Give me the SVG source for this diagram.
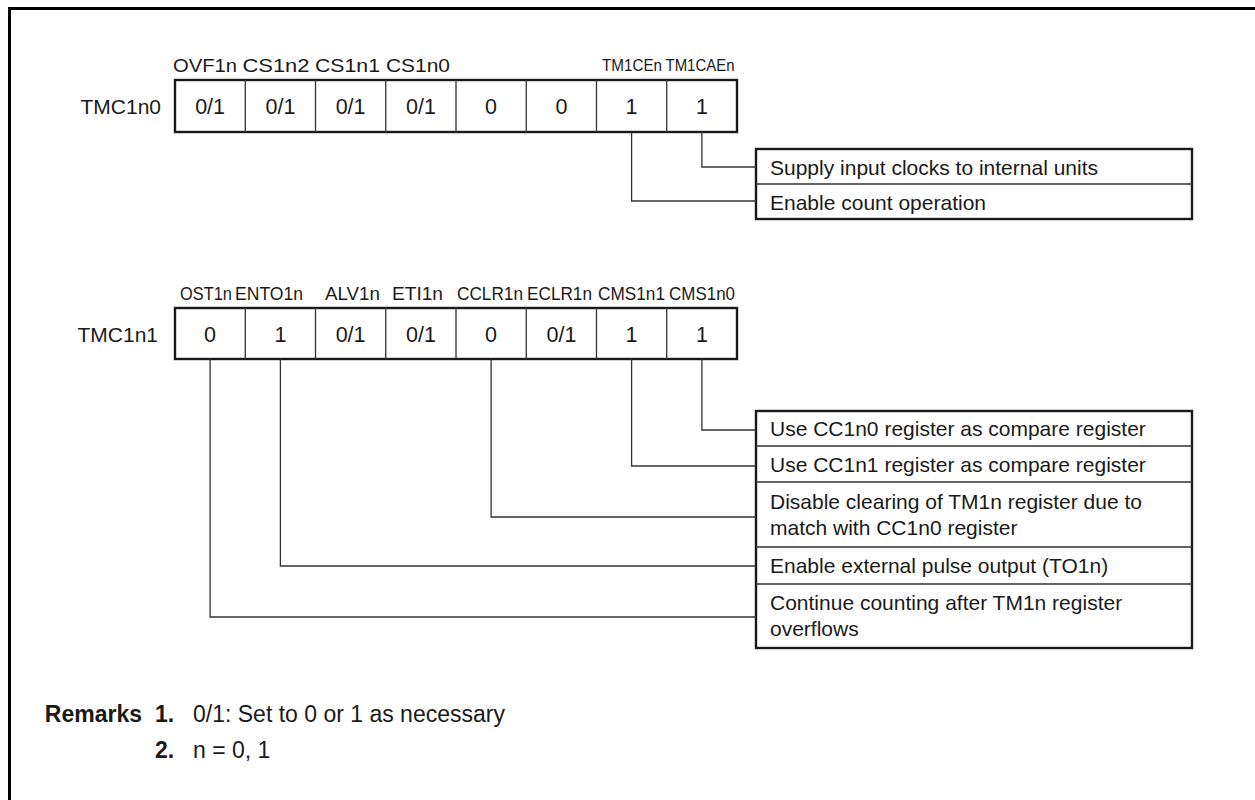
<svg xmlns="http://www.w3.org/2000/svg" width="1255" height="800" viewBox="0 0 1255 800">
  <style>
    text { font-family: "Liberation Sans", Arial, sans-serif; fill: #1a1a1a; }
    .val { font-size: 21.5px; text-anchor: middle; }
    .reg { font-size: 21px; text-anchor: end; }
    .bit { font-size: 19px; text-anchor: middle; }
    .bitn { font-size: 17px; text-anchor: middle; }
    .desc { font-size: 21px; }
    .rem { font-size: 23px; }
    .remb { font-size: 23px; font-weight: bold; }
    .outer { fill: #fff; stroke: #1a1a1a; stroke-width: 2.4; }
    .div { stroke: #333; stroke-width: 1.3; fill: none; }
    .wire { stroke: #333; stroke-width: 1.3; fill: none; }
    .frame { stroke: #000; stroke-width: 3; fill: none; }
  </style>

  <!-- page frame (top and left edges) -->
  <path class="frame" d="M9.5 800 V8.5 H1255"/>

  <!-- register TMC1n0 -->
  <g id="tmc1n0">
    <text class="bit" x="205" y="71.5" textLength="64" lengthAdjust="spacingAndGlyphs">OVF1n</text>
    <text class="bit" x="276" y="71.5" textLength="67" lengthAdjust="spacingAndGlyphs">CS1n2</text>
    <text class="bit" x="347.5" y="71.5" textLength="65" lengthAdjust="spacingAndGlyphs">CS1n1</text>
    <text class="bit" x="418" y="71.5" textLength="64" lengthAdjust="spacingAndGlyphs">CS1n0</text>
    <text class="bitn" x="632" y="71" textLength="60" lengthAdjust="spacingAndGlyphs">TM1CEn</text>
    <text class="bitn" x="700" y="71" textLength="69" lengthAdjust="spacingAndGlyphs">TM1CAEn</text>
    <text class="reg" x="161" y="114">TMC1n0</text>
    <rect class="outer" x="175" y="80" width="562" height="52"/>
    <path class="div" d="M245.25 80 V132 M315.5 80 V132 M385.75 80 V132 M456 80 V132 M526.25 80 V132 M596.5 80 V132 M666.75 80 V132"/>
    <text class="val" x="210.1" y="114">0/1</text>
    <text class="val" x="280.4" y="114">0/1</text>
    <text class="val" x="350.6" y="114">0/1</text>
    <text class="val" x="420.9" y="114">0/1</text>
    <text class="val" x="491.1" y="114">0</text>
    <text class="val" x="561.4" y="114">0</text>
    <text class="val" x="631.6" y="114">1</text>
    <text class="val" x="701.9" y="114">1</text>
  </g>

  <!-- register TMC1n1 -->
  <g id="tmc1n1">
    <text class="bit" x="206" y="299.5" textLength="52" lengthAdjust="spacingAndGlyphs">OST1n</text>
    <text class="bit" x="269" y="299.5" textLength="68" lengthAdjust="spacingAndGlyphs">ENTO1n</text>
    <text class="bit" x="352.5" y="299.5" textLength="55" lengthAdjust="spacingAndGlyphs">ALV1n</text>
    <text class="bit" x="417.5" y="299.5" textLength="51" lengthAdjust="spacingAndGlyphs">ETI1n</text>
    <text class="bit" x="490" y="299.5" textLength="66" lengthAdjust="spacingAndGlyphs">CCLR1n</text>
    <text class="bit" x="559.5" y="299.5" textLength="65" lengthAdjust="spacingAndGlyphs">ECLR1n</text>
    <text class="bit" x="631.5" y="299.5" textLength="67" lengthAdjust="spacingAndGlyphs">CMS1n1</text>
    <text class="bit" x="702" y="299.5" textLength="66" lengthAdjust="spacingAndGlyphs">CMS1n0</text>
    <text class="reg" x="158" y="342">TMC1n1</text>
    <rect class="outer" x="175" y="308" width="562" height="51"/>
    <path class="div" d="M245.25 308 V359 M315.5 308 V359 M385.75 308 V359 M456 308 V359 M526.25 308 V359 M596.5 308 V359 M666.75 308 V359"/>
    <text class="val" x="210.1" y="342">0</text>
    <text class="val" x="280.4" y="342">1</text>
    <text class="val" x="350.6" y="342">0/1</text>
    <text class="val" x="420.9" y="342">0/1</text>
    <text class="val" x="491.1" y="342">0</text>
    <text class="val" x="561.4" y="342">0/1</text>
    <text class="val" x="631.6" y="342">1</text>
    <text class="val" x="701.9" y="342">1</text>
  </g>

  <!-- settings of TMC1n0 -->
  <g id="tmc1n0-settings">
    <rect class="outer" x="756" y="149" width="436" height="70"/>
    <path class="div" d="M756 184 H1192"/>
    <text class="desc" x="770" y="175">Supply input clocks to internal units</text>
    <text class="desc" x="770" y="209.5">Enable count operation</text>
  </g>

  <!-- settings of TMC1n1 -->
  <g id="tmc1n1-settings">
    <rect class="outer" x="756" y="411" width="436" height="237"/>
    <path class="div" d="M756 446 H1192 M756 482 H1192 M756 547 H1192 M756 584 H1192"/>
    <text class="desc" x="770" y="436">Use CC1n0 register as compare register</text>
    <text class="desc" x="770" y="472">Use CC1n1 register as compare register</text>
    <text class="desc" x="770" y="509">Disable clearing of TM1n register due to</text>
    <text class="desc" x="770" y="535">match with CC1n0 register</text>
    <text class="desc" x="770" y="573">Enable external pulse output (TO1n)</text>
    <text class="desc" x="770" y="610">Continue counting after TM1n register</text>
    <text class="desc" x="770" y="636">overflows</text>
  </g>

  <!-- bit-to-setting leader lines -->
  <g id="connectors">
    <path class="wire" d="M701.9 132 V167 H756"/>
    <path class="wire" d="M631.6 132 V201 H756"/>
    <path class="wire" d="M701.9 359 V430 H756"/>
    <path class="wire" d="M631.6 359 V466 H756"/>
    <path class="wire" d="M491.1 359 V517 H756"/>
    <path class="wire" d="M280.4 359 V566 H756"/>
    <path class="wire" d="M210.1 359 V617 H756"/>
  </g>

  <!-- remarks -->
  <g id="remarks">
    <text class="remb" x="142" y="722" text-anchor="end">Remarks</text>
    <text class="remb" x="155" y="722">1.</text>
    <text class="rem" x="193" y="722">0/1: Set to 0 or 1 as necessary</text>
    <text class="remb" x="155" y="758">2.</text>
    <text class="rem" x="193" y="758">n = 0, 1</text>
  </g>
</svg>
